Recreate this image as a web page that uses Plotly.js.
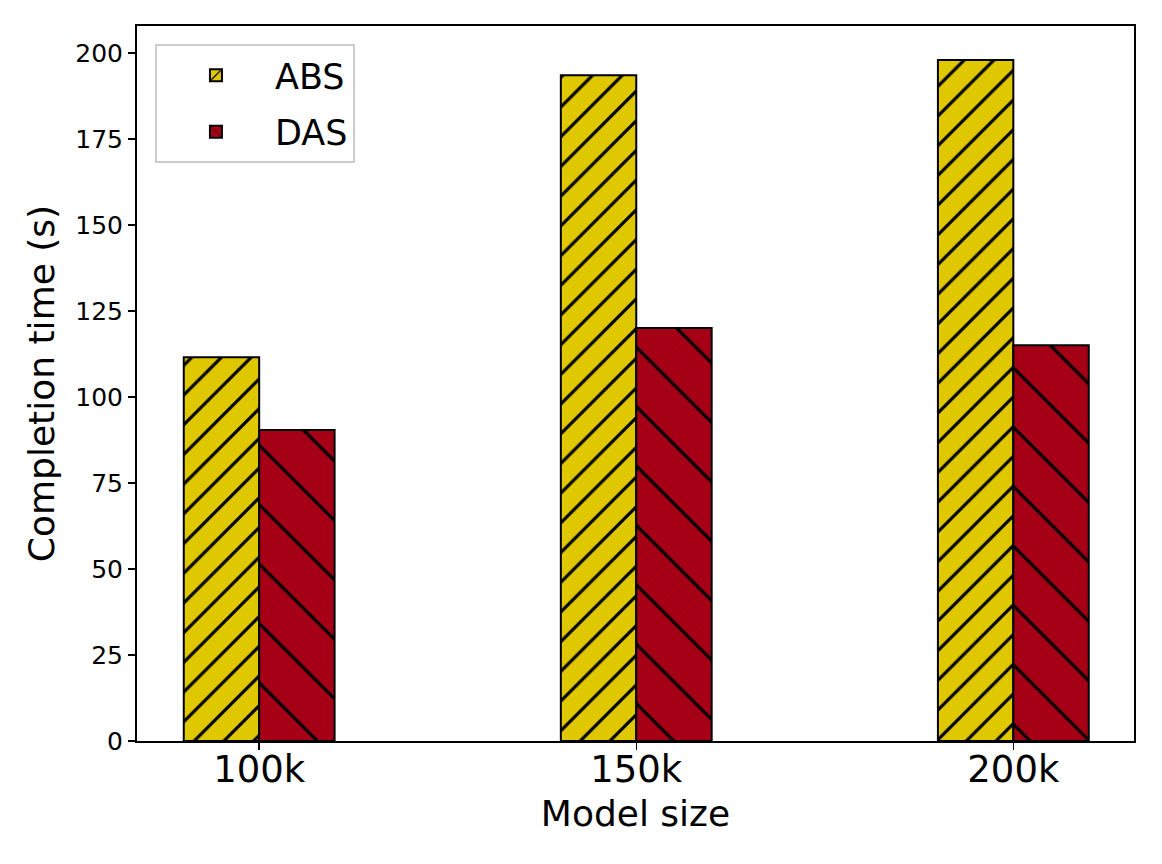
<!DOCTYPE html>
<html>
<head>
<meta charset="utf-8">
<script src="https://cdn.plot.ly/plotly-3.0.1.min.js"></script>
<style>
  body { margin: 0; background: #fff; }
  #chart { width: 1162px; height: 864px; }
</style>
</head>
<body>
<div id="chart"></div>
<script>
// model sizes on the x axis
const modelSizes = ['100k', '150k', '200k'];
// completion time in seconds
const absTimes = [111.6, 193.6, 198.0];
const dasTimes = [90.4, 120.1, 115.1];

const font = 'DejaVu Sans, Liberation Sans, sans-serif';

const traces = [
  {
    type: 'bar', name: 'ABS', x: modelSizes, y: absTimes, legendgroup: 'a',
    width: 0.2, offset: -0.2,
    marker: {
      color: '#E0C800',
      line: { color: '#000', width: 2 },
      pattern: { shape: '/', fgcolor: '#000', bgcolor: '#E0C800', size: 21, solidity: 0.15, fillmode: 'replace' }
    }
  },
  {
    type: 'bar', name: 'DAS', x: modelSizes, y: dasTimes, legendgroup: 'd',
    width: 0.2, offset: 0,
    marker: {
      color: '#A50016',
      line: { color: '#000', width: 2 },
      pattern: { shape: '\\', fgcolor: '#000', bgcolor: '#A50016', size: 42, solidity: 0.075, fillmode: 'replace' }
    }
  }
];

const layout = {
  width: 1162, height: 864,
  margin: { l: 137, r: 28, t: 26, b: 123 },
  paper_bgcolor: '#fff', plot_bgcolor: '#fff',
  barmode: 'overlay',
  font: { family: font, color: '#000' },
  showlegend: true,
  legend: {
    x: 0.018, y: 0.975, xanchor: 'left', yanchor: 'top',
    bordercolor: '#cccccc', borderwidth: 2, bgcolor: 'rgba(255,255,255,0.8)',
    font: { size: 35, family: font }, itemwidth: 108,
    traceorder: 'grouped', tracegroupgap: 8
  },
  xaxis: {
    type: 'category', range: [-0.324, 2.32], automargin: true,
    showline: true, mirror: true, linecolor: '#000', linewidth: 2,
    ticks: 'outside', ticklen: 7, tickwidth: 1.5, tickcolor: '#000',
    tickfont: { size: 37 }, ticklabelstandoff: -12, showgrid: false, zeroline: false,
    title: { text: 'Model size', font: { size: 36 }, standoff: 10 }
  },
  yaxis: {
    range: [0, 207.9], tickvals: [0, 25, 50, 75, 100, 125, 150, 175, 200], automargin: false,
    showline: true, mirror: true, linecolor: '#000', linewidth: 2,
    ticks: 'outside', ticklen: 7, tickwidth: 1.5, tickcolor: '#000',
    tickfont: { size: 25 }, showgrid: false, zeroline: false,
    title: { text: 'Completion time (s)', font: { size: 36 } }
  }
};

Plotly.newPlot('chart', traces, layout, { displayModeBar: false, staticPlot: true });
</script>
</body>
</html>
